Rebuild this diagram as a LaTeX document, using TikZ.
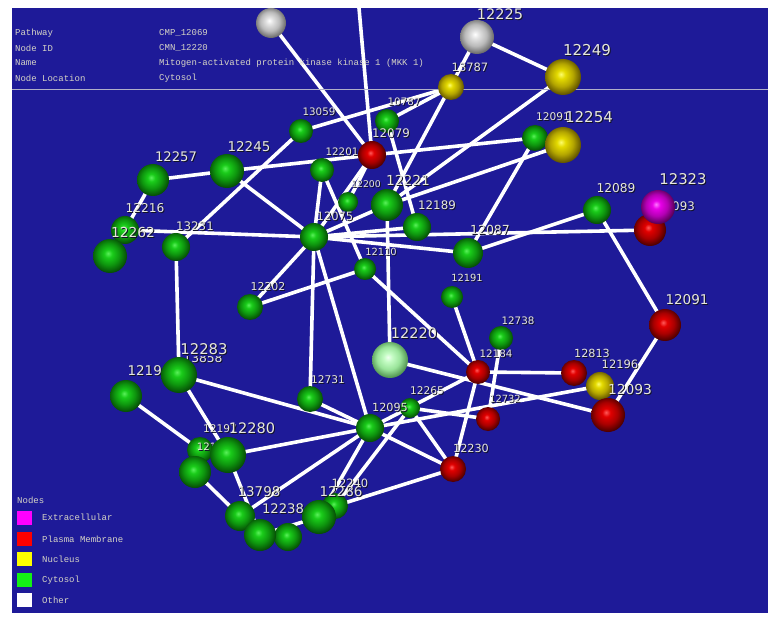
\documentclass[tikz,border=0pt]{standalone}
\usepackage{fontspec}
\newfontfamily\lblfont{DejaVu Sans}
\newfontfamily\infofont{Liberation Mono}

\definecolor{bgblue}{RGB}{30,26,152}
\definecolor{tagtext}{RGB}{232,232,220}
\definecolor{tagshadow}{RGB}{18,18,40}
\definecolor{infotext}{RGB}{214,212,198}
\definecolor{rulecol}{RGB}{176,176,200}
% legend key colours
\definecolor{keymag}{RGB}{255,0,255}
\definecolor{keyred}{RGB}{255,0,0}
\definecolor{keyyel}{RGB}{255,255,0}
\definecolor{keygrn}{RGB}{20,240,20}
\definecolor{keywht}{RGB}{255,255,255}
% sphere palettes: highlight, body, shade, rim
\definecolor{gA}{RGB}{90,240,90}\definecolor{gB}{RGB}{26,204,26}\definecolor{gC}{RGB}{14,150,14}\definecolor{gD}{RGB}{6,78,6}
\definecolor{rA}{RGB}{255,90,90}\definecolor{rB}{RGB}{225,0,0}\definecolor{rC}{RGB}{170,0,0}\definecolor{rD}{RGB}{78,0,0}
\definecolor{yA}{RGB}{252,252,110}\definecolor{yB}{RGB}{228,218,0}\definecolor{yC}{RGB}{180,166,0}\definecolor{yD}{RGB}{98,84,0}
\definecolor{wA}{RGB}{255,255,255}\definecolor{wB}{RGB}{226,226,226}\definecolor{wC}{RGB}{186,186,186}\definecolor{wD}{RGB}{108,108,108}
\definecolor{mA}{RGB}{255,120,255}\definecolor{mB}{RGB}{232,0,232}\definecolor{mC}{RGB}{180,0,180}\definecolor{mD}{RGB}{88,0,88}
\definecolor{pA}{RGB}{240,255,240}\definecolor{pB}{RGB}{196,252,196}\definecolor{pC}{RGB}{154,228,154}\definecolor{pD}{RGB}{82,150,82}

\pgfdeclareradialshading{greenball}{\pgfpoint{-3bp}{4bp}}{color(0bp)=(gA); color(6bp)=(gB); color(16bp)=(gC); color(26bp)=(gD); color(50bp)=(gD)}
\pgfdeclareradialshading{redball}{\pgfpoint{-3bp}{4bp}}{color(0bp)=(rA); color(6bp)=(rB); color(16bp)=(rC); color(26bp)=(rD); color(50bp)=(rD)}
\pgfdeclareradialshading{yellowball}{\pgfpoint{-3bp}{4bp}}{color(0bp)=(yA); color(6bp)=(yB); color(16bp)=(yC); color(26bp)=(yD); color(50bp)=(yD)}
\pgfdeclareradialshading{whiteball}{\pgfpoint{-3bp}{4bp}}{color(0bp)=(wA); color(6bp)=(wB); color(16bp)=(wC); color(26bp)=(wD); color(50bp)=(wD)}
\pgfdeclareradialshading{magentaball}{\pgfpoint{-3bp}{4bp}}{color(0bp)=(mA); color(6bp)=(mB); color(16bp)=(mC); color(26bp)=(mD); color(50bp)=(mD)}
\pgfdeclareradialshading{paleball}{\pgfpoint{-3bp}{4bp}}{color(0bp)=(pA); color(6bp)=(pB); color(16bp)=(pC); color(26bp)=(pD); color(50bp)=(pD)}

\pgfdeclarelayer{back}
\pgfdeclarelayer{links}
\pgfsetlayers{back,links,main}

% sphere: name, x, y, diameter, palette
\newcommand\bead[5]{\node[sphere=#5, minimum size=#4pt] (#1) at (#2,#3) {};}
% node number with drop shadow: name, x, y, font size, text
\newcommand\btext[5]{%
  \node[inner sep=0pt, font=\lblfont\fontsize{#4}{#4}\selectfont, text=tagshadow] (#1s) at (#2+1,#3+1) {#5};
  \node[inner sep=0pt, font=\lblfont\fontsize{#4}{#4}\selectfont, text=tagtext] (#1) at (#2,#3) {#5};}

\begin{document}
\begin{tikzpicture}[x=1pt,y=-1pt,
  sphere/.style={circle, inner sep=0pt, outer sep=0pt, shade, shading=#1ball},
  link/.style={draw=white, line width=3.6pt},
  infotxt/.style={font=\infofont\fontsize{9}{9}\selectfont, text=infotext, anchor=west, inner sep=0pt},
  key/.style={minimum width=15pt, minimum height=14pt, inner sep=0pt}]

\useasboundingbox (0,0) rectangle (776,620);
\begin{pgfonlayer}{back}
  \fill[white] (0,0) rectangle (776,620);
  \fill[bgblue] (12,8) rectangle (768,613);
\end{pgfonlayer}

% ---- selected-node information panel
\node[infotxt] (pwk) at (15,33) {Pathway};
\node[infotxt] (pwv) at (159,33) {CMP\_12069};
\node[infotxt] (idk) at (15,48) {Node ID};
\node[infotxt] (idv) at (159,48) {CMN\_12220};
\node[infotxt] (nmk) at (15,63) {Name};
\node[infotxt] (nmv) at (159,63) {Mitogen-activated protein kinase kinase 1 (MKK 1)};
\node[infotxt] (lck) at (15,78) {Node Location};
\node[infotxt] (lcv) at (159,78) {Cytosol};
\coordinate (ruleL) at (12,89);
\coordinate (ruleR) at (768,89);
\draw[rulecol, line width=0.8pt] (ruleL) -- (ruleR);

% ---- legend
\node[infotxt] (lgt) at (17,500) {Nodes};
\node[key, fill=keymag] (k1) at (24.5,517.5) {};
\node[infotxt] (k1t) at (42,517.5) {Extracellular};
\node[key, fill=keyred] (k2) at (24.5,539) {};
\node[infotxt] (k2t) at (42,539) {Plasma Membrane};
\node[key, fill=keyyel] (k3) at (24.5,559) {};
\node[infotxt] (k3t) at (42,559) {Nucleus};
\node[key, fill=keygrn] (k4) at (24.5,580) {};
\node[infotxt] (k4t) at (42,580) {Cytosol};
\node[key, fill=keywht] (k5) at (24.5,600) {};
\node[infotxt] (k5t) at (42,600) {Other};

% ---- spheres, back to front, each with its number
\bead{nWTL}{271}{23}{30}{white}
\bead{n12225}{477}{37}{34}{white}
\btext{t12225}{500}{14}{14.5}{12225}
\bead{n12249}{563}{77}{36}{yellow}
\btext{t12249}{587}{50}{15}{12249}
\bead{n13787}{451}{87}{26}{yellow}
\btext{t13787}{470}{67}{11.5}{13787}
\bead{n10787}{387}{121}{24}{green}
\btext{t10787}{404}{102}{10.3}{10787}
\bead{n13059}{301}{131}{24}{green}
\btext{t13059}{319}{112}{10.3}{13059}
\bead{n12091g}{535}{138}{26}{green}
\btext{t12091g}{553}{117}{10.6}{12091}
\bead{n12254}{563}{145}{36}{yellow}
\btext{t12254}{589}{117}{15}{12254}
\bead{n12201}{322}{170}{24}{green}
\btext{t12201}{342}{152}{10.3}{12201}
\bead{n12079}{372}{155}{28}{red}
\btext{t12079}{391}{133}{11.8}{12079}
\bead{n12200}{348}{202}{20}{green}
\btext{t12200}{366}{184}{9.3}{12200}
\bead{n12221}{387}{205}{32}{green}
\btext{t12221}{408}{180}{13.8}{12221}
\bead{n12189}{417}{227}{28}{green}
\btext{t12189}{437}{205}{11.8}{12189}
\bead{n12075}{314}{237}{28}{green}
\btext{t12075}{335}{216}{11.5}{12075}
\bead{n12216}{125}{230}{28}{green}
\btext{t12216}{145}{208}{12.2}{12216}
\bead{n12262}{110}{256}{34}{green}
\btext{t12262}{133}{232}{13.8}{12262}
\bead{n12257}{153}{180}{32}{green}
\btext{t12257}{176}{157}{13.2}{12257}
\bead{n12245}{227}{171}{34}{green}
\btext{t12245}{249}{147}{13.5}{12245}
\bead{n13231}{176}{247}{28}{green}
\btext{t13231}{195}{226}{11.8}{13231}
\bead{n12110}{365}{269}{22}{green}
\btext{t12110}{381}{252}{9.9}{12110}
\bead{n12087}{468}{253}{30}{green}
\btext{t12087}{490}{230}{12.5}{12087}
\bead{n12089}{597}{210}{28}{green}
\btext{t12089}{616}{188}{12.2}{12089}
\bead{n12093b}{650}{230}{32}{red}
\btext{t12093b}{676}{206}{11.8}{12093}
\bead{n12323}{658}{207}{34}{magenta}
\btext{t12323}{683}{179}{14.8}{12323}
\bead{n12191}{452}{297}{22}{green}
\btext{t12191}{467}{278}{9.9}{12191}
\bead{n12202}{250}{307}{26}{green}
\btext{t12202}{268}{287}{10.9}{12202}
\bead{n12091r}{665}{325}{32}{red}
\btext{t12091r}{687}{300}{13.5}{12091}
\bead{n12738}{501}{338}{24}{green}
\btext{t12738}{518}{321}{10.3}{12738}
\bead{n12184}{478}{372}{24}{red}
\btext{t12184}{496}{354}{10.3}{12184}
\bead{n12220}{390}{360}{36}{pale}
\btext{t12220}{414}{333}{14.5}{12220}
\bead{n12813}{574}{373}{26}{red}
\btext{t12813}{592}{353}{11.2}{12813}
\bead{n12196}{600}{386}{28}{yellow}
\btext{t12196}{620}{364}{11.5}{12196}
\bead{n12093}{608}{415}{34}{red}
\btext{t12093}{630}{389}{13.8}{12093}
\bead{n12265}{410}{408}{20}{green}
\btext{t12265}{427}{391}{10.6}{12265}
\bead{n12732}{488}{419}{24}{red}
\btext{t12732}{505}{399}{9.9}{12732}
\bead{n12230}{453}{469}{26}{red}
\btext{t12230}{471}{448}{11.2}{12230}
\bead{n12095}{370}{428}{28}{green}
\btext{t12095}{390}{407}{11.2}{12095}
\bead{n12731}{310}{399}{26}{green}
\btext{t12731}{328}{380}{10.6}{12731}
\bead{n12194}{126}{396}{32}{green}
\btext{t12194}{149}{371}{13.4}{12194}
\begin{scope}
  \clip (170,356) rectangle (240,368);
  \btext{t13858}{203}{358}{12.3}{13858}
\end{scope}
\bead{n12283}{179}{375}{36}{green}
\btext{t12283}{204}{349}{14.8}{12283}
\bead{n12197}{200}{450}{26}{green}
\btext{t12197}{220}{429}{10.6}{12197}
\bead{n12198}{195}{472}{32}{green}
\btext{t12198}{213}{447}{10.2}{12198}
\bead{n12280}{228}{455}{36}{green}
\btext{t12280}{252}{428}{14.5}{12280}
\bead{n13798}{240}{516}{30}{green}
\btext{t13798}{259}{492}{13.4}{13798}
\bead{nD}{288}{537}{28}{green}
\bead{n12238}{260}{535}{32}{green}
\btext{t12238}{283}{509}{13.2}{12238}
\bead{n12240}{335}{506}{26}{green}
\btext{t12240}{350}{483}{11.5}{12240}
\bead{n12286}{319}{517}{34}{green}
\btext{t12286}{341}{492}{13.5}{12286}

\coordinate (topend) at (359,8);

% ---- interactions
\begin{pgfonlayer}{links}
\foreach \a/\b in {
  nWTL/n12079, topend/n12079, n12225/n12249, n12225/n12221, n12249/n12221,
  n13787/n13059, n13787/n10787, n12079/n12091g, n12245/n12079, n12257/n12245,
  n12257/n12216, n12216/n12075, n13231/n13059, n13231/n12283, n12245/n12075,
  n12075/n12202, n12202/n12110, n12079/n12075, n12079/n12200, n12075/n12731,
  n12075/n12095, n12221/n12220, n12110/n12184, n12191/n12184, n12220/n12093,
  n12184/n12813, n12184/n12230, n12738/n12732, n12095/n12184, n12240/n12265,
  n12095/n12280, n12283/n12095, n12731/n12095, n12095/n13798, n12095/n12286,
  n12095/n12230, n12265/n12230, n12240/n12230, n12095/n12196, n12265/n12732,
  n12283/n12280, n12280/n12238, n12194/n12197, n12198/n13798, n12238/n12286,
  n12089/n12087, n12089/n12091r, n12091r/n12093, n12075/n12093b, n12075/n12189,
  n12075/n12087, n12087/n12091g, n12221/n12254, n10787/n12189, n12201/n12075,
  n12201/n12110, n12075/n12221}
  \draw[link] (\a.center) -- (\b.center);
\end{pgfonlayer}
\end{tikzpicture}
\end{document}
